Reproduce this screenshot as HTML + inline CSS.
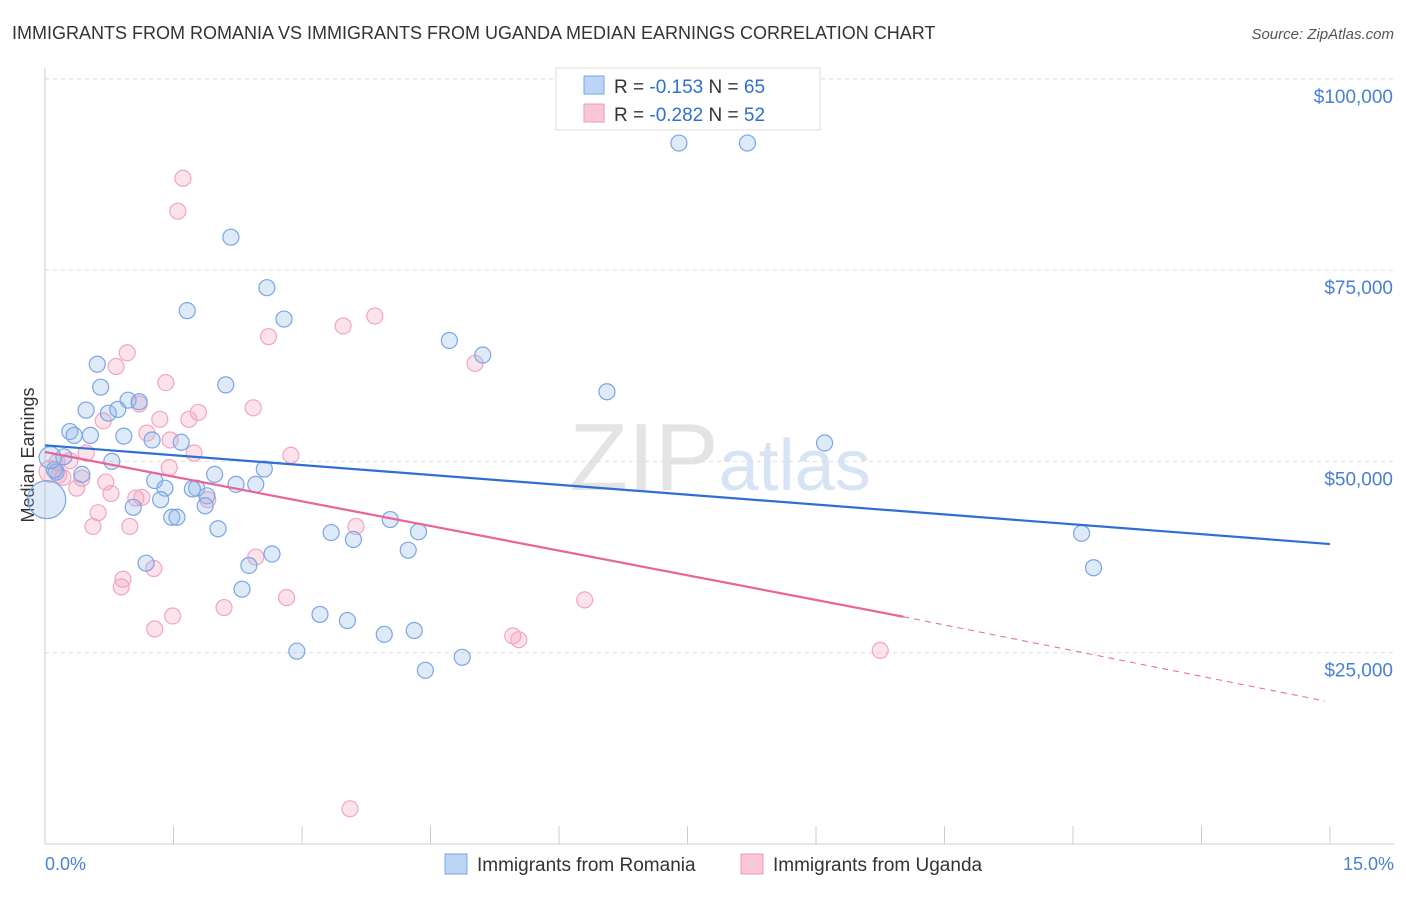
<!DOCTYPE html>
<html><head><meta charset="utf-8"><style>
body{margin:0;background:#fff;font-family:"Liberation Sans",sans-serif;}
svg text{font-family:"Liberation Sans",sans-serif;}
</style></head><body>
<svg id="chart" width="1406" height="892">
<text x="12" y="39" font-size="18" fill="#333">IMMIGRANTS FROM ROMANIA VS IMMIGRANTS FROM UGANDA MEDIAN EARNINGS CORRELATION CHART</text>
<text x="1394" y="39" font-size="15" fill="#555" text-anchor="end" font-style="italic">Source: ZipAtlas.com</text>
<text x="720" y="490" font-size="96" fill="#e4e4e4" text-anchor="middle" font-family="Liberation Serif">ZIP<tspan fill="#d6e4f5" font-family="Liberation Sans" font-size="72">atlas</tspan></text>
<text x="34" y="455" font-size="18" fill="#333" text-anchor="middle" transform="rotate(-90 34 455)">Median Earnings</text>
<g id="grid"></g><g id="marks"></g>
<g>
<rect x="556" y="68" width="264" height="62" fill="#fff" stroke="#ddd"/>
<rect x="584" y="76" width="20" height="18" fill="#bcd4f5" stroke="#7aa6e3"/>
<rect x="584" y="104" width="20" height="18" fill="#f9c6d6" stroke="#ee9ab5"/>
<text x="614" y="93" font-size="19" fill="#333">R = <tspan fill="#2e6fd1">-0.153</tspan>   N = <tspan fill="#2e6fd1">65</tspan></text>
<text x="614" y="121" font-size="19" fill="#333">R = <tspan fill="#2e6fd1">-0.282</tspan>   N = <tspan fill="#2e6fd1">52</tspan></text>
</g>
<g>
<rect x="445" y="854" width="22" height="20" fill="#bcd4f5" stroke="#7aa6e3"/>
<text x="477" y="871" font-size="19" fill="#333">Immigrants from Romania</text>
<rect x="741" y="854" width="22" height="20" fill="#f9c6d6" stroke="#ee9ab5"/>
<text x="773" y="871" font-size="19" fill="#333">Immigrants from Uganda</text>
</g>
<text x="45" y="870" font-size="18" fill="#4a7fd6">0.0%</text>
<text x="1394" y="870" font-size="18" fill="#4a7fd6" text-anchor="end">15.0%</text>
</svg>
<script>
const yTicks=[25000,50000,75000,100000];
const yTickLabels=["$25,000","$50,000","$75,000","$100,000"];
const xTicks=[0,1.5,3,4.5,6,7.5,9,10.5,12,13.5,15];
const romX=[7.4,8.2,2.17,1.66,2.79,2.59,4.72,5.11,0.61,0.65,2.11,6.56,0.97,1.1,0.48,0.74,0.85,0.29,0.34,0.53,0.92,1.25,1.59,9.1,0.22,0.78,0.13,0.11,0.43,2.56,1.98,1.28,1.4,1.77,2.23,2.46,1.72,1.89,1.35,1.03,1.87,1.48,1.54,2.02,4.03,4.36,3.34,3.6,12.1,4.24,2.65,1.18,2.38,12.24,2.3,3.21,3.53,3.96,4.31,2.94,4.87,4.44,0.02,0.06];
const romY=[91600,91600,79300,69700,68600,72700,65800,63900,62700,59700,60000,59100,58000,57800,56700,56300,56800,53900,53400,53400,53300,52800,52500,52400,50600,50000,48600,48900,48300,49000,48300,47500,46500,46500,47000,47000,46400,45500,45000,44000,44200,42700,42700,41200,42400,40800,40700,39800,40600,38400,37900,36700,36400,36100,33300,30000,29200,27400,27900,25200,24400,22700,45000,50500];
const romR=[9,9,9,9,9,9,9,9,9,9,9,9,9,9,9,9,9,9,9,9,9,9,9,9,9,9,9,9,9,9,9,9,9,9,9,9,9,9,9,9,9,9,9,9,9,9,9,9,9,9,9,9,9,9,9,9,9,9,9,9,9,9,20,12];
const ugaX=[1.61,1.55,3.85,3.48,2.61,0.96,0.83,5.02,1.41,1.1,2.43,1.79,1.68,1.34,0.68,1.19,1.46,0.48,1.74,2.87,0.14,0.29,1.45,0.21,0.43,0.71,0.16,0.37,0.77,1.13,1.06,1.9,3.63,0.62,0.99,0.56,2.46,1.27,0.91,0.89,6.3,2.82,2.09,1.49,1.28,5.46,5.53,9.75,3.56,0.06];
const ugaY=[87000,82700,69000,67700,66300,64200,62400,62800,60300,57500,57000,56400,55500,55500,55300,53700,52800,51100,51100,50800,49900,50100,49200,47900,47800,47300,48200,46500,45800,45300,45200,45000,41500,43300,41500,41500,37500,36000,34600,33600,31900,32200,30900,29800,28100,27200,26700,25300,4600,48700];
const blueLine=[[0,52100],[15,39200]];
const pinkSolid=[[0,51230],[10.02,29700]];
const pinkDash=[[10.02,29700],[14.94,18690]];
const X0=45,X1=1330,Y0=844;
const sx=v=>X0+v/15*(X1-X0);
const sy=v=>Y0-v/25000*191.3;
const NS="http://www.w3.org/2000/svg";
function mk(tag,attrs,parent){const e=document.createElementNS(NS,tag);for(const k in attrs)e.setAttribute(k,attrs[k]);parent.appendChild(e);return e;}
const grid=document.getElementById('grid'),marks=document.getElementById('marks');
yTicks.forEach((t,i)=>{
 const l=mk('line',{x1:45,x2:1394,y1:sy(t),y2:sy(t),stroke:'#ddd','stroke-dasharray':'4,4'},grid);
 
 
 const tx=mk('text',{x:1393,y:sy(t)+24,'font-size':19,fill:'#4a7fd6','text-anchor':'end'},grid);
 tx.textContent=yTickLabels[i];
 
 
});
const gt=mk('line',{x1:45,x2:1394,y1:79,y2:79,stroke:'#ddd','stroke-dasharray':'4,4'},grid);


const ya=mk('line',{x1:45,x2:45,y1:68,y2:844,stroke:'#ccc'},grid);


const xa=mk('line',{x1:45,x2:1394,y1:844,y2:844,stroke:'#ccc'},grid);


xTicks.forEach(t=>{
 const l=mk('line',{x1:sx(t),x2:sx(t),y1:826,y2:844,stroke:'#ccc'},grid);
 
 
});
ugaX.forEach((x,i)=>{
 const c=mk('circle',{cx:sx(x),cy:sy(ugaY[i]),r:i==ugaX.length-1?11:8,fill:'rgba(244,160,190,0.3)',stroke:'#f0a6c0','stroke-width':1.2},marks);
 
 
});
romX.forEach((x,i)=>{
 const c=mk('circle',{cx:sx(x),cy:sy(romY[i]),r:romR[i]-1,fill:'rgba(150,185,235,0.3)',stroke:'#7aa6e3','stroke-width':1.2},marks);
 
 
});
const bl=mk('line',{x1:sx(blueLine[0][0]),y1:sy(blueLine[0][1]),x2:sx(blueLine[1][0]),y2:sy(blueLine[1][1]),stroke:'#2e6fd1','stroke-width':2.2},marks);


const pl=mk('line',{x1:sx(pinkSolid[0][0]),y1:sy(pinkSolid[0][1]),x2:sx(pinkSolid[1][0]),y2:sy(pinkSolid[1][1]),stroke:'#e8659a','stroke-width':2.2},marks);


const pd=mk('line',{x1:sx(pinkDash[0][0]),y1:sy(pinkDash[0][1]),x2:sx(pinkDash[1][0]),y2:sy(pinkDash[1][1]),stroke:'#e8659a','stroke-width':1,'stroke-dasharray':'6,5'},marks);


</script>
</body></html>
